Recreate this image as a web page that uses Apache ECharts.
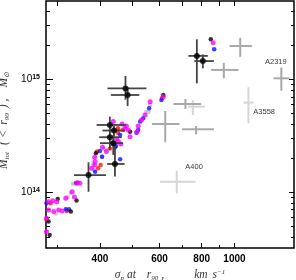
<!DOCTYPE html>
<html><head><meta charset="utf-8">
<script src="https://cdn.jsdelivr.net/npm/echarts@6/dist/echarts.min.js"></script>
<style>html,body{margin:0;padding:0;background:#fff}#c{width:296px;height:280px}</style>
</head><body><div id="c"></div>
<script>
// ---- tick values ----
const xTicksMajor = [400, 600, 800, 1000];
const xTicksMinor = [300, 500, 700, 900];
const xTicksAll = [300, 400, 500, 600, 700, 800, 900, 1000];
const yTicksMajor = [1e14, 1e15];
const yTicksMinor = [4e13, 5e13, 6e13, 7e13, 8e13, 9e13, 2e14, 3e14, 4e14, 5e14, 6e14, 7e14, 8e14, 9e14, 2e15, 3e15, 4e15];

// ---- simulated clusters [sigma_p (km/s), M_tot (Msun)] ----
const simBlack = [[284,4.19e13],[282,5.50e13],[300,8.73e13],[328,6.74e13],[341,8.46e13],[389,2.21e14],[491,3.44e14],[616,7.26e14],[851,2.26e15]];
const simGray = [[296,6.48e13],[321,9.10e13],[328,9.87e13],[333,1.19e14],[382,1.78e14],[384,1.58e14],[405,2.06e14],[411,2.42e14],[417,2.37e14],[455,3.56e14],[548,5.13e14],[557,5.16e14],[563,5.92e14],[613,6.90e14]];
const simRed = [[278,5.7e13],[286,7.99e13],[319,6.83e13],[344,1.22e14],[395,1.63e14],[402,1.74e14],[392,2.29e14],[428,2.44e14],[452,3.68e14],[452,3.37e14],[468,3.56e14],[611,6.83e14]];
const simBlue = [[278,7.99e13],[317,7.06e13],[324,7.08e13],[340,1.21e14],[387,1.52e14],[400,2.32e14],[406,2.06e14],[443,2.50e14],[446,2.57e14],[459,3.21e14],[459,1.96e14],[513,3.37e14],[519,3.56e14],[526,4.22e14],[537,4.52e14],[559,5.53e14],[608,6.56e14],[871,1.84e15]];
const simMagenta = [[278,4.46e13],[278,5.89e13],[282,6.97e13],[282,8.25e13],[290,8.42e13],[298,8.25e13],[292,6.74e13],[302,6.97e13],[309,6.83e13],[317,8.85e13],[331,1.01e14],[336,9.10e13],[342,1.20e14],[349,1.20e14],[378,1.63e14],[387,1.87e14],[386,1.74e14],[386,2.04e14],[407,2.50e14],[418,2.29e14],[438,4.22e14],[438,2.72e14],[448,2.94e14],[453,2.81e14],[461,2.67e14],[465,4.01e14],[474,3.68e14],[479,3.86e14],[485,3.56e14],[491,3.10e14],[515,3.44e14],[519,3.86e14],[531,4.36e14],[544,4.83e14],[563,6.34e14],[616,7.02e14],[865,2.11e15]];

// ---- observed clusters [sigma, M, sigmaLo, sigmaHi, MLo, MHi] ----
const obsBlack = [
  [476,8.3e14,421,549,6.6e14,1.07e15],
  [483,7.26e14,431,523,5.8e14,8.5e14],
  [428,3.94e14,391,478,3.35e14,4.67e14],
  [440,3.52e14,407,474,3.1e14,3.9e14],
  [428,3.07e14,398,464,2.37e14,3.7e14],
  [438,2.72e14,400,468,2.14e14,3.21e14],
  [443,1.78e14,420,473,1.38e14,2.54e14],
  [370,1.42e14,335,417,1.01e14,1.84e14],
  [774,1.61e15,731,834,9.2e14,2.26e15],
  [806,1.45e15,761,869,1.25e15,1.66e15]
];
const obsGrayMid = [
  [1040,1.97e15,967,1126,1.58e15,2.33e15],
  [930,1.21e15,853,1028,1.02e15,1.40e15],
  [1376,1.02e15,1305,1455,7.93e14,1.27e15],
  [716,6.04e14,660,797,5.46e14,6.69e14],
  [624,4.02e14,570,687,2.77e14,5.24e14],
  [770,3.61e14,700,869,3.26e14,3.86e14]
];
const obsGrayLight = [
  [1100,6.21e14,1063,1139,4.08e14,8.5e14],
  [753,5.72e14,728,819,4.83e14,6.56e14],
  [675,1.24e14,602,767,9.8e13,1.55e14]
];
const clusterNames = ['A2319', 'A3558', 'A400'];
const clusterNamePos = [[1376,1.02e15],[1100,6.21e14],[675,1.24e14]];
const nameOffsets = [[-5.5,-16],[15.7,9.5],[17.3,-14.4]];

const X_MIN = 277, X_MAX = 1500, Y_MIN = 3.21e13, Y_MAX = 4.93e15;

function crossRender(color, width) {
  return function (params, api) {
    const l = api.coord([api.value(2), api.value(1)]);
    const r = api.coord([api.value(3), api.value(1)]);
    const b = api.coord([api.value(0), api.value(4)]);
    const t = api.coord([api.value(0), api.value(5)]);
    return { type: 'group', children: [
      { type: 'line', shape: { x1: l[0], y1: l[1], x2: r[0], y2: r[1] }, style: { stroke: color, lineWidth: width } },
      { type: 'line', shape: { x1: b[0], y1: b[1], x2: t[0], y2: t[1] }, style: { stroke: color, lineWidth: width } }
    ]};
  };
}

const baseAx = { type: 'log', logBase: 10, splitLine: { show: false }, axisLine: { show: false }, axisTick: { show: false }, axisLabel: { show: false } };
function xA(o) { return Object.assign({}, baseAx, { min: X_MIN, max: X_MAX }, o); }
function yA(o) { return Object.assign({}, baseAx, { min: Y_MIN, max: Y_MAX }, o); }
const tk = (len, vals) => ({ show: true, inside: true, length: len, customValues: vals, lineStyle: { color: '#000', width: 1 } });

const serif = 'Liberation Serif';
const tc = '#333';
const fs = 11.5;
const tok = (pl, italic) => ({ fontFamily: serif, fontStyle: italic === false ? 'normal' : 'italic', fontSize: fs, color: tc, padding: [0, 0, 0, pl] });
const richTitle = {
  i: tok(0),
  sub: { fontFamily: serif, fontStyle: 'italic', fontSize: 7, color: tc, padding: [6, 0, 0, 0] },
  sup: { fontFamily: serif, fontStyle: 'italic', fontSize: 7, color: tc, padding: [0, 0, 6, 0] },
  at: tok(3), r: tok(11), cm: tok(3), km: tok(30), s: tok(5),
  y0: tok(8), par: tok(7), lt: tok(4, false), ry: tok(6), cp: tok(5), m2: tok(11)
};

const chart = echarts.init(document.getElementById('c'));
chart.setOption({
  animation: false,
  grid: { left: 46, right: 2, top: 1, bottom: 32, outerBoundsMode: 'none', containLabel: false,
          show: true, borderColor: '#000', borderWidth: 1.5, backgroundColor: 'transparent' },
  xAxis: [
    xA({ position: 'bottom', axisTick: tk(5, xTicksMajor),
         axisLabel: { show: true, customValues: xTicksMajor, formatter: v => String(Math.round(v)), margin: 6,
                      fontFamily: 'Liberation Sans', fontWeight: 'bold', fontSize: 10, color: '#000' },
         name: '{i|σ}{sub|p}{at|at}{r|r}{sub|90}{cm|,}{km|km}{s|s}{sup|−1}', nameLocation: 'middle', nameGap: 17,
         nameTextStyle: { rich: richTitle } }),
    xA({ position: 'bottom', axisTick: tk(3, xTicksMinor) }),
    xA({ position: 'top', axisTick: tk(5, xTicksAll) })
  ],
  yAxis: [
    yA({ position: 'left', axisTick: tk(7, yTicksMajor),
         axisLabel: { show: true, customValues: yTicksMajor, margin: 6,
                      formatter: v => '{b|10}{s|' + Math.round(Math.log10(v)) + '}',
                      rich: { b: { fontFamily: 'Liberation Sans', fontSize: 10, color: '#000' },
                              s: { fontFamily: 'Liberation Sans', fontSize: 7, fontWeight: 'bold', color: '#000', padding: [0, 0, 5, 0] } } },
         name: '{y0|M}{sub|tot}{par|(}{lt|<}{ry|r}{sub|90}{cp|)}{cm|,}{m2|M}{sub|⊙}', nameLocation: 'middle', nameGap: 27,
         nameTextStyle: { rich: richTitle } }),
    yA({ position: 'left', axisTick: tk(4, yTicksMinor) }),
    yA({ position: 'right', axisTick: tk(5, yTicksMajor) }),
    yA({ position: 'right', axisTick: tk(3, yTicksMinor) })
  ],
  series: [
    { type: 'custom', name: 'obsGrayLight', data: obsGrayLight, renderItem: crossRender('#d6d6d6', 2), silent: true, z: 1 },
    { type: 'custom', name: 'obsGrayMid', data: obsGrayMid, renderItem: crossRender('#a9a9a9', 2), silent: true, z: 1 },
    { type: 'scatter', name: 'gray', data: simGray, symbolSize: 4.5, itemStyle: { color: '#bdbdbd' }, z: 2 },
    { type: 'scatter', name: 'red', data: simRed, symbolSize: 4.5, itemStyle: { color: '#ff1010' }, z: 2 },
    { type: 'scatter', name: 'blue', data: simBlue, symbolSize: 4.5, itemStyle: { color: '#1010ff' }, z: 2 },
    { type: 'scatter', name: 'black', data: simBlack, symbolSize: 4.5, itemStyle: { color: '#000' }, z: 2 },
    { type: 'scatter', name: 'magenta', data: simMagenta, symbolSize: 5, itemStyle: { color: '#ff00ff' }, z: 2 },
    { type: 'custom', name: 'obsBlack', data: obsBlack, renderItem: crossRender('#444', 1.8), silent: true, z: 3 },
    { type: 'scatter', name: 'obsBlackPts', data: obsBlack.map(d => [d[0], d[1]]), symbolSize: 6, itemStyle: { color: '#000' }, z: 4 },
    { type: 'scatter', name: 'names', symbolSize: 0, z: 5,
      data: clusterNames.map((n, i) => ({ value: clusterNamePos[i], name: n,
        label: { show: true, formatter: '{b}', position: 'inside', offset: nameOffsets[i],
                 fontFamily: 'Liberation Sans', fontSize: 7.5, color: '#000' } })) }
  ]
});
</script></body></html>
